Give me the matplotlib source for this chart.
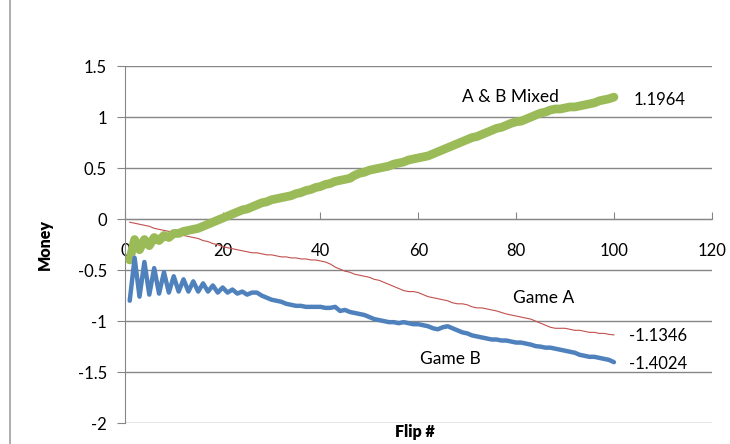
import numpy as np
import matplotlib
matplotlib.use("Agg")
from matplotlib import pyplot as plt
from matplotlib.lines import Line2D

plt.rcParams['font.family'] = ['Lato', 'DejaVu Sans']

flips = np.arange(1, 101)

game_a = [-0.03, -0.04, -0.05, -0.06, -0.07, -0.09, -0.10, -0.11, -0.12, -0.13,
          -0.14, -0.16, -0.17, -0.18, -0.19, -0.21, -0.22, -0.24, -0.25, -0.27,
          -0.28, -0.29, -0.30, -0.31, -0.32, -0.33, -0.33, -0.34, -0.35, -0.35,
          -0.36, -0.37, -0.37, -0.38, -0.38, -0.39, -0.39, -0.40, -0.40, -0.41,
          -0.42, -0.44, -0.47, -0.49, -0.51, -0.52, -0.54, -0.55, -0.56, -0.57,
          -0.59, -0.60, -0.62, -0.64, -0.66, -0.68, -0.70, -0.71, -0.71, -0.72,
          -0.74, -0.76, -0.77, -0.78, -0.79, -0.80, -0.82, -0.83, -0.83, -0.84,
          -0.86, -0.87, -0.87, -0.88, -0.89, -0.90, -0.915, -0.93, -0.94, -0.95,
          -0.96, -0.97, -0.98, -1.00, -1.02, -1.04, -1.06, -1.07, -1.07, -1.07,
          -1.08, -1.09, -1.09, -1.10, -1.11, -1.11, -1.12, -1.12, -1.13, -1.1346]

game_b = [-0.80, -0.38, -0.76, -0.42, -0.74, -0.48, -0.73, -0.52, -0.72, -0.56,
          -0.71, -0.59, -0.71, -0.61, -0.71, -0.63, -0.71, -0.65, -0.72, -0.67,
          -0.72, -0.69, -0.73, -0.71, -0.74, -0.72, -0.72, -0.75, -0.77, -0.79,
          -0.80, -0.81, -0.83, -0.84, -0.85, -0.85, -0.86, -0.86, -0.86, -0.86,
          -0.87, -0.87, -0.86, -0.90, -0.89, -0.91, -0.92, -0.93, -0.94, -0.96,
          -0.98, -0.99, -1.00, -1.01, -1.01, -1.02, -1.01, -1.02, -1.03, -1.03,
          -1.04, -1.05, -1.07, -1.08, -1.06, -1.05, -1.07, -1.09, -1.11, -1.12,
          -1.14, -1.15, -1.16, -1.17, -1.18, -1.18, -1.19, -1.19, -1.20, -1.21,
          -1.21, -1.22, -1.23, -1.245, -1.25, -1.26, -1.26, -1.27, -1.28, -1.29,
          -1.30, -1.31, -1.33, -1.34, -1.35, -1.35, -1.36, -1.37, -1.38, -1.4024]

mixed = [-0.40, -0.20, -0.30, -0.20, -0.26, -0.18, -0.21, -0.16, -0.18, -0.14,
         -0.14, -0.12, -0.11, -0.10, -0.09, -0.07, -0.05, -0.03, -0.01, 0.01,
         0.03, 0.05, 0.07, 0.09, 0.10, 0.12, 0.14, 0.16, 0.17, 0.19,
         0.20, 0.21, 0.22, 0.23, 0.25, 0.26, 0.28, 0.29, 0.31, 0.32,
         0.34, 0.35, 0.37, 0.38, 0.39, 0.40, 0.43, 0.45, 0.46, 0.48,
         0.49, 0.50, 0.51, 0.52, 0.54, 0.55, 0.56, 0.58, 0.59, 0.60,
         0.61, 0.62, 0.64, 0.66, 0.68, 0.70, 0.72, 0.74, 0.76, 0.78,
         0.80, 0.81, 0.83, 0.85, 0.87, 0.89, 0.90, 0.92, 0.94, 0.955,
         0.96, 0.98, 1.00, 1.02, 1.04, 1.05, 1.07, 1.08, 1.08, 1.09,
         1.10, 1.10, 1.11, 1.12, 1.13, 1.14, 1.16, 1.17, 1.18, 1.1964]

x_ticks = [0, 20, 40, 60, 80, 100, 120]
y_ticks = [-2, -1.5, -1, -0.5, 0, 0.5, 1, 1.5]

grey = '#868686'

fig = plt.figure(figsize=(7.3, 4.44), dpi=100)
ax = fig.add_axes([0.171, 0.047, 0.804, 0.804])

ax.plot(flips, game_a, color='#C0504D', linewidth=0.8, zorder=3)
ax.plot(flips, mixed, color='#9BBB59', linewidth=6.3, solid_capstyle='round',
        solid_joinstyle='round', zorder=4)
ax.plot(flips, game_b, color='#4F81BD', linewidth=3.2, solid_capstyle='round',
        solid_joinstyle='round', zorder=5)

ax.set_xlim(0, 120)
ax.set_ylim(-2, 1.5)
ax.set_xticks(x_ticks)
ax.set_yticks(y_ticks)
ax.set_yticklabels(['-2', '-1.5', '-1', '-0.5', '0', '0.5', '1', '1.5'])
ax.yaxis.grid(True, color=grey, linewidth=1)
ax.set_axisbelow(True)

for side in ['top', 'right']:
    ax.spines[side].set_visible(False)
ax.spines['bottom'].set_position(('data', 0))
ax.spines['bottom'].set_color(grey)
ax.spines['left'].set_color(grey)

ax.tick_params(axis='x', direction='in', length=5, color=grey, pad=17,
               labelsize=12)
ax.tick_params(axis='y', direction='out', length=6, color=grey, pad=7,
               labelsize=12)

ax.set_ylabel('Money', fontsize=11.5, fontweight='heavy', labelpad=18)
fig.text(0.568, 0.026, 'Flip #', fontsize=11.5, fontweight='heavy',
         ha='center', va='center')

# series labels and end values
ax.text(78.8, 1.2, 'A & B Mixed', fontsize=12.5, ha='center', va='center')
ax.text(104, 1.17, '1.1964', fontsize=12, ha='left', va='center')
ax.text(85.7, -0.77, 'Game A', fontsize=12.5, ha='center', va='center')
ax.text(103, -1.15, '-1.1346', fontsize=12, ha='left', va='center')
ax.text(66.5, -1.37, 'Game B', fontsize=12.5, ha='center', va='center')
ax.text(103, -1.42, '-1.4024', fontsize=12, ha='left', va='center')

# outer chart border on the left
fig.add_artist(Line2D([0.014, 0.014], [0, 1], color='#A0A0A0', linewidth=1.2,
                      transform=fig.transFigure))

fig.savefig('out.png', dpi=100)
